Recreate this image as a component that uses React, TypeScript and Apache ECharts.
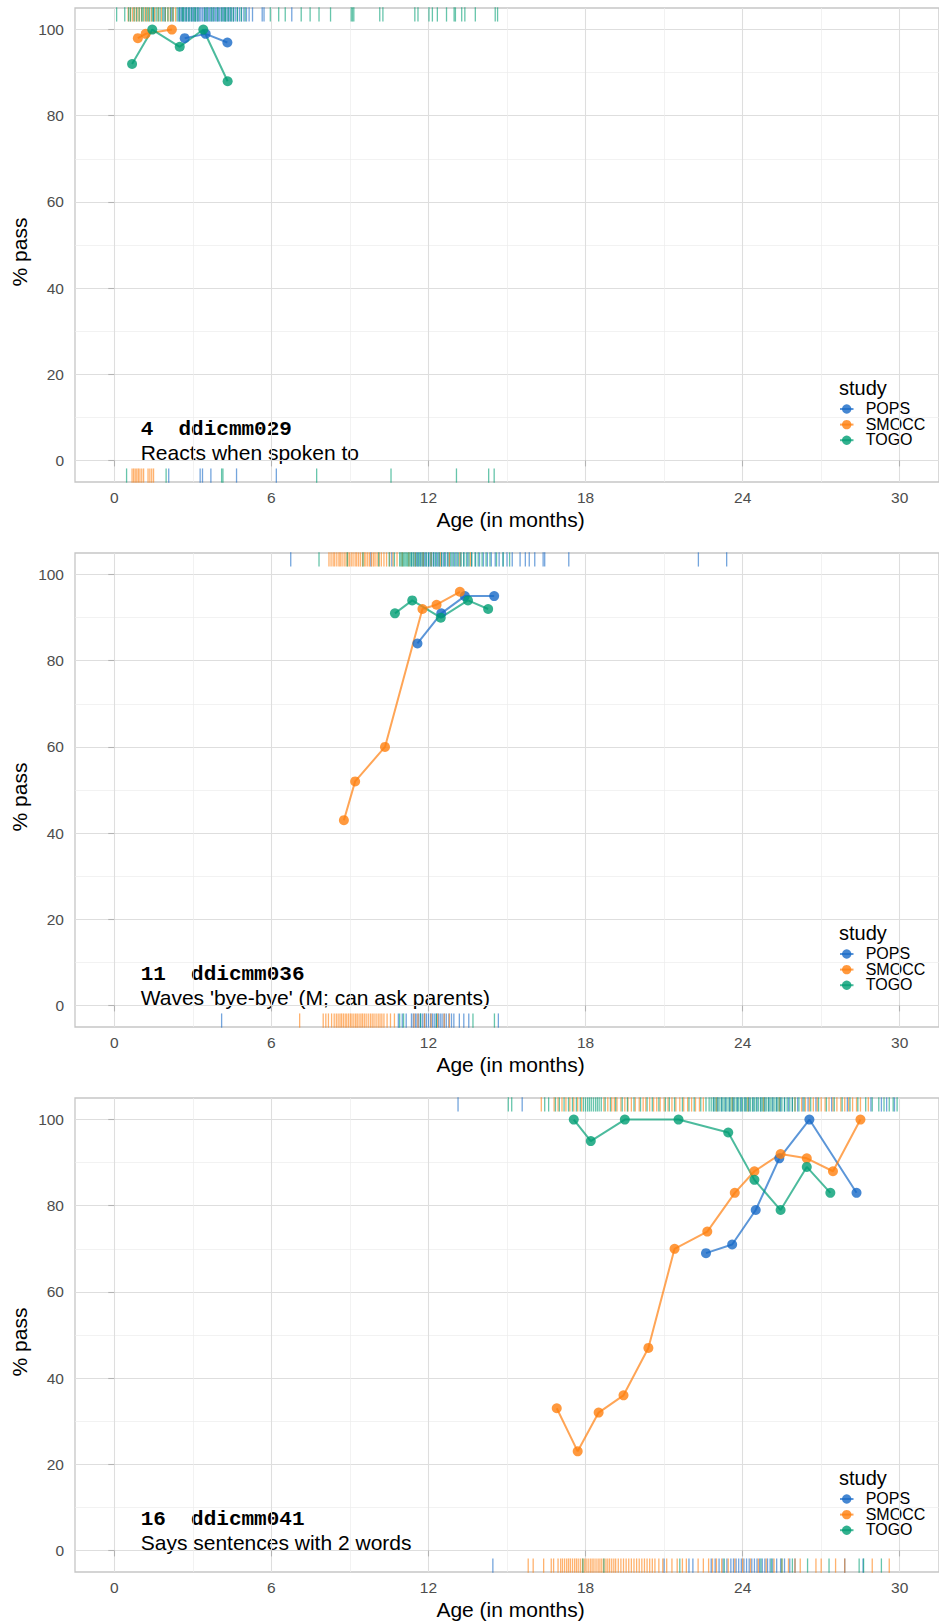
import React, { useEffect, useRef } from "react";
import * as echarts from "echarts";

const STUDIES = ["POPS", "SMOCC", "TOGO"];
const COLORS: Record<string, string> = { POPS: "#1769c7", SMOCC: "#ff7f0e", TOGO: "#009e73" };

const xTicks = [0, 6, 12, 18, 24, 30];
const xMinor = [3, 9, 15, 21, 27];
const yTicks = [0, 20, 40, 60, 80, 100];
const yMinor = [10, 30, 50, 70, 90];

// ---------- Panel 1: 4 ddicmm029 ----------
const p1Pops = [[2.69, 98], [3.49, 99], [4.32, 97]];
const p1Smocc = [[0.9, 98], [1.2, 99], [2.2, 100]];
const p1Togo = [[0.68, 92], [1.45, 100], [2.5, 96], [3.4, 100], [4.33, 88]];

const p1TopPops = [1.5, 1.9, 2.2, 2.45, 2.5, 2.56, 2.61, 2.66, 2.72, 2.77, 2.83, 2.88, 2.94, 2.99, 3.04, 3.1, 3.16, 3.2, 3.26, 3.31, 3.37, 3.43, 3.48, 3.53, 3.59, 3.64, 3.7, 3.75, 3.81, 3.87, 3.92, 3.97, 4.02, 4.08, 4.14, 4.19, 4.25, 4.31, 4.37, 4.42, 4.48, 4.55, 4.62, 4.7, 4.78, 4.86, 4.95, 5.05, 5.15, 5.28, 5.65, 5.72, 6.78];
const p1TopSmocc = [0.53, 0.62, 0.7, 0.78, 0.87, 0.95, 1.04, 1.14, 1.23, 1.31, 1.42, 1.54, 1.67, 1.8, 1.95, 2.05, 2.14, 2.24, 2.34];
const p1TopTogo = [0.09, 0.4, 0.55, 0.62, 0.75, 0.85, 0.95, 1.05, 1.1, 1.2, 1.28, 1.35, 1.45, 1.5, 1.6, 1.68, 1.75, 1.85, 1.95, 2.05, 2.15, 2.25, 2.4, 2.5, 2.6, 2.65, 2.75, 2.85, 2.95, 3.05, 3.1, 3.2, 3.45, 3.55, 3.7, 3.8, 3.95, 4.1, 4.2, 4.25, 4.35, 4.45, 4.55, 4.7, 4.85, 5.0, 5.96, 6.28, 6.53, 7.14, 7.48, 7.82, 8.26, 9.05, 9.1, 9.15, 10.14, 10.26, 11.48, 11.6, 12.02, 12.15, 12.34, 12.69, 12.98, 13.03, 13.27, 13.39, 13.79, 14.55, 14.64];
const p1BotPops = [2.08, 3.28, 3.37, 3.69, 4.67, 6.19];
const p1BotSmocc = [0.68, 0.74, 0.8, 0.86, 0.92, 0.98, 1.05, 1.12, 1.29, 1.36, 1.43, 1.5];
const p1BotTogo = [0.47, 1.98, 4.1, 4.15, 7.73, 10.57, 13.07, 14.3, 14.51];

// ---------- Panel 2: 11 ddicmm036 ----------
const p2Pops = [[11.58, 84], [12.49, 91], [13.39, 95], [14.51, 95]];
const p2Smocc = [[8.77, 43], [9.2, 52], [10.34, 60], [11.77, 92], [12.31, 93], [13.2, 96]];
const p2Togo = [[10.72, 91], [11.38, 94], [12.47, 90], [13.51, 94], [14.28, 92]];

const p2TopPops = [6.74, 9.8, 10.6, 11.35, 11.45, 11.55, 11.62, 11.7, 11.78, 11.85, 11.92, 12.0, 12.06, 12.13, 12.2, 12.27, 12.35, 12.42, 12.5, 12.57, 12.64, 12.72, 12.8, 12.9, 13.0, 13.1, 13.22, 13.35, 13.5, 13.65, 13.8, 13.95, 14.1, 14.25, 14.4, 14.55, 14.7, 14.85, 15.0, 15.2, 15.5, 15.7, 15.85, 16.06, 16.38, 16.44, 17.36, 22.31, 23.39];
const p2TopSmocc = [8.2, 8.28, 8.36, 8.42, 8.5, 8.58, 8.63, 8.7, 8.78, 8.85, 8.92, 8.98, 9.05, 9.12, 9.2, 9.26, 9.33, 9.4, 9.48, 9.55, 9.61, 9.68, 9.75, 9.83, 9.9, 9.96, 10.04, 10.12, 10.2, 10.3, 10.4, 10.52, 10.65, 10.8, 11.0, 11.25, 11.5, 11.8, 12.1, 12.45, 12.8, 13.2, 13.6];
const p2TopTogo = [7.82, 8.9, 9.5, 10.1, 10.5, 10.7, 10.9, 10.95, 11.0, 11.05, 11.1, 11.15, 11.2, 11.25, 11.3, 11.36, 11.42, 11.5, 11.58, 11.65, 11.72, 11.8, 11.9, 12.0, 12.1, 12.2, 12.3, 12.4, 12.5, 12.62, 12.75, 12.85, 12.95, 13.05, 13.15, 13.25, 13.35, 13.45, 13.55, 13.65, 13.78, 13.9, 14.05, 14.2, 14.35, 14.6, 14.85, 15.1];
const p2BotPops = [4.1, 10.85, 11.0, 11.15, 11.35, 11.42, 11.5, 11.56, 11.63, 11.7, 11.78, 11.85, 11.92, 12.0, 12.08, 12.15, 12.22, 12.3, 12.38, 12.45, 12.52, 12.6, 12.68, 12.78, 12.88, 12.97, 13.18, 13.35, 13.54, 14.67];
const p2BotSmocc = [7.08, 7.98, 8.08, 8.18, 8.3, 8.4, 8.48, 8.55, 8.62, 8.68, 8.75, 8.82, 8.88, 8.95, 9.02, 9.08, 9.15, 9.22, 9.28, 9.35, 9.42, 9.48, 9.55, 9.62, 9.7, 9.78, 9.85, 9.92, 10.0, 10.08, 10.15, 10.22, 10.3, 10.42, 10.55, 10.7, 11.45, 11.6, 11.85, 12.1, 12.35, 12.6, 12.8];
const p2BotTogo = [10.9, 11.05, 11.7, 12.3, 13.7, 14.52];

// ---------- Panel 3: 16 ddicmm041 ----------
const p3Pops = [[22.6, 69], [23.6, 71], [24.5, 79], [25.4, 91], [26.55, 100], [28.35, 83]];
const p3Smocc = [[16.9, 33], [17.7, 23], [18.5, 32], [19.45, 36], [20.4, 47], [21.4, 70], [22.65, 74], [23.7, 83], [24.45, 88], [25.45, 92], [26.45, 91], [27.45, 88], [28.5, 100]];
const p3Togo = [[17.55, 100], [18.2, 95], [19.5, 100], [21.55, 100], [23.45, 97], [24.45, 86], [25.45, 79], [26.45, 89], [27.35, 83]];

const p3TopPops = [13.13, 15.58, 22.9, 23.05, 23.2, 23.35, 23.5, 23.65, 23.8, 23.95, 24.1, 24.25, 24.4, 24.55, 24.7, 24.85, 25.0, 25.15, 25.3, 25.45, 25.6, 25.75, 25.9, 26.1, 26.3, 26.5, 26.8, 27.4, 28.0, 28.9, 29.3, 29.5, 29.8];
const p3TopSmocc = [16.31, 16.8, 16.95, 17.1, 17.25, 17.4, 17.55, 17.7, 17.85, 18.7, 18.85, 19.0, 19.1, 19.2, 19.35, 19.5, 19.62, 19.75, 19.9, 20.05, 20.2, 20.3, 20.45, 20.6, 20.72, 20.85, 21.0, 21.15, 21.3, 21.45, 21.6, 21.75, 21.9, 22.05, 22.2, 22.35, 22.5, 23.0, 23.6, 24.2, 24.8, 25.4, 26.0, 26.25, 26.4, 26.55, 26.7, 26.85, 27.0, 27.15, 27.3, 27.45, 27.6, 27.75, 27.9, 28.05, 28.2, 28.35, 28.5, 28.8];
const p3TopTogo = [15.05, 15.18, 16.44, 16.59, 16.85, 17.0, 17.18, 17.35, 17.5, 17.65, 17.8, 17.92, 18.0, 18.08, 18.15, 18.22, 18.3, 18.38, 18.45, 18.52, 18.6, 18.75, 18.95, 19.15, 19.4, 19.6, 19.85, 20.1, 20.35, 20.55, 20.8, 21.05, 21.2, 21.4, 21.7, 21.95, 22.15, 22.4, 22.6, 22.72, 22.8, 22.88, 22.95, 23.02, 23.1, 23.18, 23.25, 23.32, 23.4, 23.48, 23.55, 23.62, 23.7, 23.78, 23.85, 23.92, 24.0, 24.08, 24.15, 24.22, 24.3, 24.38, 24.45, 24.52, 24.6, 24.68, 24.75, 24.82, 24.9, 24.98, 25.05, 25.12, 25.2, 25.28, 25.35, 25.42, 25.5, 25.6, 25.7, 25.8, 25.9, 26.0, 26.15, 26.35, 26.6, 26.9, 27.2, 27.5, 27.8, 28.1, 28.4, 28.7, 28.95, 29.2, 29.4, 29.6, 29.75, 29.9];
const p3BotPops = [14.46, 21.0, 21.95, 22.1, 22.8, 22.95, 23.1, 23.25, 23.4, 23.55, 23.65, 23.75, 23.85, 23.95, 24.05, 24.15, 24.25, 24.35, 24.45, 24.55, 24.65, 24.75, 24.85, 24.95, 25.05, 25.15, 25.3, 25.45, 25.6, 25.8, 26.0, 27.9, 28.6];
const p3BotSmocc = [15.81, 16.0, 16.4, 16.69, 16.78, 16.95, 17.05, 17.12, 17.2, 17.28, 17.35, 17.42, 17.5, 17.58, 17.65, 17.72, 17.8, 17.88, 17.95, 18.02, 18.1, 18.18, 18.25, 18.32, 18.4, 18.48, 18.55, 18.62, 18.7, 18.78, 18.85, 18.92, 19.0, 19.08, 19.15, 19.25, 19.35, 19.45, 19.55, 19.65, 19.75, 19.85, 19.95, 20.05, 20.15, 20.25, 20.35, 20.45, 20.55, 20.65, 20.8, 20.95, 21.1, 21.3, 21.5, 21.7, 21.85, 22.3, 22.5, 22.7, 22.85, 23.0, 23.2, 23.45, 23.7, 24.0, 24.3, 24.6, 24.9, 25.2, 25.5, 25.75, 26.0, 26.2, 26.8, 27.0, 27.55, 27.9, 28.95, 29.6];
const p3BotTogo = [17.9, 18.7, 21.6, 23.3, 24.7, 25.1, 25.5, 25.9, 26.48, 27.3, 28.45, 28.62, 29.3];

const itemCodes = ["4", "11", "16"];
const itemNames = ["ddicmm029", "ddicmm036", "ddicmm041"];
const itemLabels = ["Reacts when spoken to", "Waves 'bye-bye' (M; can ask parents)", "Says sentences with 2 words"];

const panelLines = [
  { POPS: p1Pops, SMOCC: p1Smocc, TOGO: p1Togo },
  { POPS: p2Pops, SMOCC: p2Smocc, TOGO: p2Togo },
  { POPS: p3Pops, SMOCC: p3Smocc, TOGO: p3Togo },
];
const panelRugTop = [
  { POPS: p1TopPops, SMOCC: p1TopSmocc, TOGO: p1TopTogo },
  { POPS: p2TopPops, SMOCC: p2TopSmocc, TOGO: p2TopTogo },
  { POPS: p3TopPops, SMOCC: p3TopSmocc, TOGO: p3TopTogo },
];
const panelRugBot = [
  { POPS: p1BotPops, SMOCC: p1BotSmocc, TOGO: p1BotTogo },
  { POPS: p2BotPops, SMOCC: p2BotSmocc, TOGO: p2BotTogo },
  { POPS: p3BotPops, SMOCC: p3BotSmocc, TOGO: p3BotTogo },
];

const SANS = "'Liberation Sans', Arial, Helvetica, sans-serif";
const MONO = "'Liberation Mono', 'Courier New', monospace";

export default function App() {
  const ref = useRef<HTMLDivElement>(null);
  useEffect(() => {
    document.body.style.margin = "0";
    if (!ref.current) return;
    const chart = echarts.init(ref.current, null, { renderer: "svg" });

    const PANEL_STEP = 545;
    const GRID_TOP = 8;
    const GRID_H = 474;
    const GRID_LEFT = 75;
    const GRID_W = 871;

    const grids: any[] = [];
    const xAxes: any[] = [];
    const yAxes: any[] = [];
    const series: any[] = [];
    const graphics: any[] = [];

    for (let i = 0; i < 3; i++) {
      const off = i * PANEL_STEP;
      grids.push({
        left: GRID_LEFT, top: GRID_TOP + off, width: GRID_W, height: GRID_H,
        show: true, borderColor: "#c6c6c6", borderWidth: 1.3, backgroundColor: "transparent",
      });
      xAxes.push({
        type: "value", gridIndex: i, min: -1.5, max: 31.5, position: "bottom",
        axisLine: { show: false },
        axisTick: { show: true, length: 6, customValues: xTicks, lineStyle: { color: "#b3b3b3", width: 1.1 } },
        axisLabel: { customValues: xTicks, color: "#4d4d4d", fontSize: 15.5, fontFamily: SANS, margin: 7 },
        splitLine: { show: true, lineStyle: { color: "#dedede", width: 1.1 } },
      });
      xAxes.push({
        type: "value", gridIndex: i, min: -1.5, max: 31.5, position: "top",
        axisLine: { show: false },
        axisTick: { show: false, customValues: xMinor },
        axisLabel: { show: false, customValues: xMinor },
        splitLine: { show: true, lineStyle: { color: "#ececec", width: 0.7 } },
      });
      yAxes.push({
        type: "value", gridIndex: i, min: -5, max: 105, position: "left",
        axisLine: { show: false },
        axisTick: { show: true, length: 6, customValues: yTicks, lineStyle: { color: "#b3b3b3", width: 1.1 } },
        axisLabel: { customValues: yTicks, color: "#4d4d4d", fontSize: 15.5, fontFamily: SANS, margin: 11 },
        splitLine: { show: true, lineStyle: { color: "#dedede", width: 1.1 } },
      });
      yAxes.push({
        type: "value", gridIndex: i, min: -5, max: 105, position: "right",
        axisLine: { show: false },
        axisTick: { show: false, customValues: yMinor },
        axisLabel: { show: false, customValues: yMinor },
        splitLine: { show: true, lineStyle: { color: "#ececec", width: 0.7 } },
      });

      for (const s of STUDIES) {
        const c = COLORS[s];
        const top = (panelRugTop[i] as any)[s] as number[];
        const bot = (panelRugBot[i] as any)[s] as number[];
        series.push({
          type: "scatter", name: s + " rug", xAxisIndex: 2 * i, yAxisIndex: 2 * i,
          symbol: "rect", symbolSize: [1.3, 14.2], silent: true, z: 2,
          itemStyle: { color: c, opacity: 0.6 },
          data: top.map((v) => [v, 103.5]),
        });
        series.push({
          type: "scatter", name: s + " rug", xAxisIndex: 2 * i, yAxisIndex: 2 * i,
          symbol: "rect", symbolSize: [1.3, 14.2], silent: true, z: 2,
          itemStyle: { color: c, opacity: 0.6 },
          data: bot.map((v) => [v, -3.5]),
        });
      }
      for (const s of STUDIES) {
        const c = COLORS[s];
        series.push({
          type: "line", name: s, xAxisIndex: 2 * i, yAxisIndex: 2 * i,
          data: (panelLines[i] as any)[s], symbol: "circle", symbolSize: 10, z: 3,
          lineStyle: { color: c, width: 2, opacity: 0.7 },
          itemStyle: { color: c, opacity: 0.8 },
          silent: true,
        });
      }

      // annotation texts
      graphics.push({
        type: "text", x: 140.7, y: 429.5 + off,
        style: { text: itemCodes[i] + "  " + itemNames[i], font: "bold 21px " + MONO, fill: "#000", textAlign: "left", textVerticalAlign: "middle" },
      });
      graphics.push({
        type: "text", x: 140.7, y: 452 + off,
        style: { text: itemLabels[i], font: "21px " + SANS, fill: "#000", textAlign: "left", textVerticalAlign: "middle" },
      });
      // axis titles
      graphics.push({
        type: "text", x: GRID_LEFT + GRID_W / 2, y: 519.4 + off,
        style: { text: "Age (in months)", font: "21px " + SANS, fill: "#000", textAlign: "center", textVerticalAlign: "middle" },
      });
      graphics.push({
        type: "text", x: 19.5, y: GRID_TOP + GRID_H / 2 + 7 + off, rotation: Math.PI / 2,
        style: { text: "% pass", font: "21px " + SANS, fill: "#000", textAlign: "center", textVerticalAlign: "middle" },
      });
      // legend
      graphics.push({
        type: "text", x: 839, y: 388.1 + off,
        style: { text: "study", font: "20px " + SANS, fill: "#000", textAlign: "left", textVerticalAlign: "middle" },
      });
      STUDIES.forEach((s, k) => {
        const cy = 409 + k * 15.6 + off;
        graphics.push({
          type: "line", shape: { x1: 840, y1: cy, x2: 853.5, y2: cy },
          style: { stroke: COLORS[s], lineWidth: 2, opacity: 0.7 },
        });
        graphics.push({
          type: "circle", shape: { cx: 846.7, cy, r: 4.7 },
          style: { fill: COLORS[s], opacity: 0.8 },
        });
        graphics.push({
          type: "text", x: 865.7, y: cy - 0.3,
          style: { text: s, font: "16px " + SANS, fill: "#000", textAlign: "left", textVerticalAlign: "middle" },
        });
      });
    }

    chart.setOption({
      animation: false,
      backgroundColor: "#ffffff",
      grid: grids,
      xAxis: xAxes,
      yAxis: yAxes,
      series,
      graphic: graphics,
    });
    return () => chart.dispose();
  }, []);
  return <div ref={ref} style={{ position: "absolute", left: 0, top: 0, width: 939, height: 1623 }} />;
}
